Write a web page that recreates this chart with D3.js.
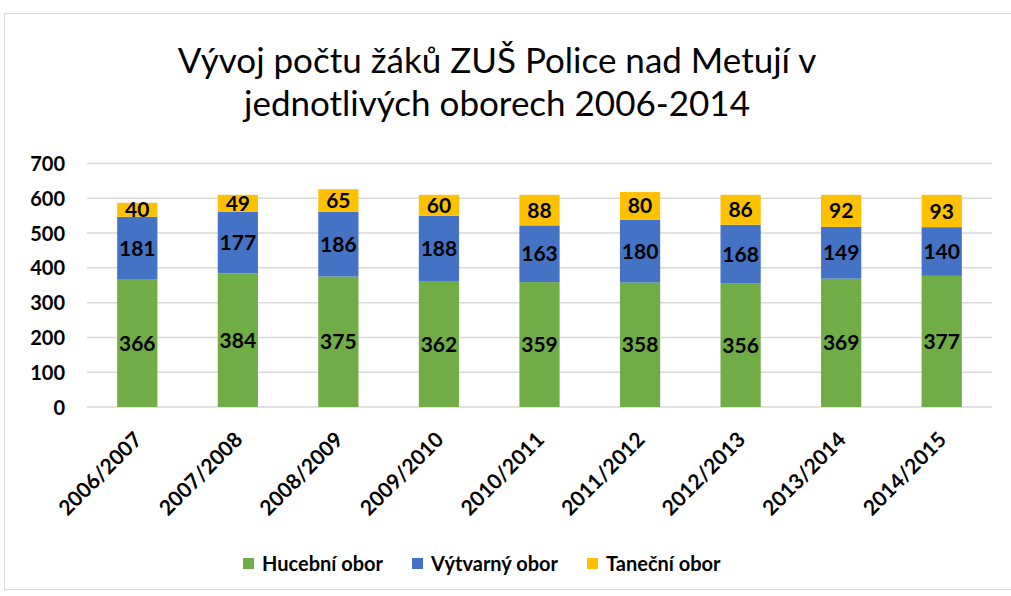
<!DOCTYPE html>
<html><head><meta charset="utf-8">
<script src="https://cdn.jsdelivr.net/npm/d3@7"></script>
<style>body{margin:0;background:#fff;font-family:Lato,"Open Sans",sans-serif;}</style>
</head><body><svg id="c" width="1011" height="596"></svg>
<script>
const categories = ["2006/2007","2007/2008","2008/2009","2009/2010","2010/2011","2011/2012","2012/2013","2013/2014","2014/2015"];
const hudebni = [366,384,375,362,359,358,356,369,377];
const vytvarny = [181,177,186,188,163,180,168,149,140];
const tanecni = [40,49,65,60,88,80,86,92,93];
const seriesNames = ["Hucební obor","Výtvarný obor","Taneční obor"];
const colors = ["#70AD47","#4472C4","#FFC000"];
const yTicks = [0,100,200,300,400,500,600,700];

const svg = d3.select("#c");
svg.append("rect").attr("x",4.5).attr("y",13.5).attr("width",1020).attr("height",576).attr("fill","#fff").attr("stroke","#d9d9d9");

const font = "Lato, 'Open Sans', sans-serif";
svg.append("text").attr("x",497).attr("y",73).attr("text-anchor","middle").attr("font-size",35).attr("font-family",font).attr("fill","#000").text("Vývoj počtu žáků ZUŠ Police nad Metují v");
svg.append("text").attr("x",497).attr("y",116).attr("text-anchor","middle").attr("font-size",35).attr("font-family",font).attr("fill","#000").text("jednotlivých oborech 2006-2014");

const x = d3.scaleBand().domain(categories).range([87,992]).paddingInner(0.6).paddingOuter(0.3);
const y = d3.scaleLinear().domain([0,700]).range([407,163.5]);

const g = svg.append("g");
g.selectAll("line.grid").data(yTicks).join("line").attr("x1",87).attr("x2",992)
  .attr("y1",d=>y(d)).attr("y2",d=>y(d)).attr("stroke","#d9d9d9").attr("stroke-width",1.5);

const yAxis = d3.axisLeft(y).tickValues(yTicks).tickSize(0).tickPadding(0);
const ya = svg.append("g").attr("transform","translate(65,0)").call(yAxis);
ya.select(".domain").remove();
ya.selectAll("text").attr("font-size",20).attr("font-weight","bold").attr("font-family",font).attr("fill","#000").attr("dy","0.35em");

const table = categories.map((c,i)=>({cat:c, s0:hudebni[i], s1:vytvarny[i], s2:tanecni[i]}));
const stack = d3.stack().keys(["s0","s1","s2"])(table);

stack.forEach((layer,li)=>{
  g.selectAll("rect.s"+li).data(layer).join("rect")
   .attr("x",d=>x(d.data.cat)).attr("width",x.bandwidth())
   .attr("y",d=>y(d[1])).attr("height",d=>y(d[0])-y(d[1]))
   .attr("fill",colors[li]);
  g.selectAll("text.l"+li).data(layer).join("text")
   .attr("x",d=>x(d.data.cat)+x.bandwidth()/2)
   .attr("y",d=>(y(d[0])+y(d[1]))/2).attr("dy","0.36em")
   .attr("text-anchor","middle").attr("font-size",21).attr("font-weight","bold")
   .attr("font-family",font).attr("fill","#000")
   .text(d=>d[1]-d[0]);
});

const xAxis = d3.axisBottom(x).tickSize(0).tickPadding(0);
const xa = svg.append("g").attr("transform","translate(0,407)").call(xAxis);
xa.select(".domain").remove();
xa.selectAll("text").attr("font-size",21).attr("font-weight","bold").attr("font-family",font).attr("fill","#000")
  .attr("text-anchor","end").attr("dy",null).attr("y",0)
  .attr("transform","translate(6,34) rotate(-45)");

const legX = [243,412,587];
const leg = svg.append("g");
seriesNames.forEach((n,i)=>{
  leg.append("rect").attr("x",legX[i]).attr("y",558).attr("width",11).attr("height",11).attr("fill",colors[i]);
  leg.append("text").attr("x",legX[i]+19).attr("y",564).attr("dy","0.35em").attr("font-size",20).attr("font-weight","bold").attr("font-family",font).attr("fill","#000").text(n);
});
</script></body></html>
